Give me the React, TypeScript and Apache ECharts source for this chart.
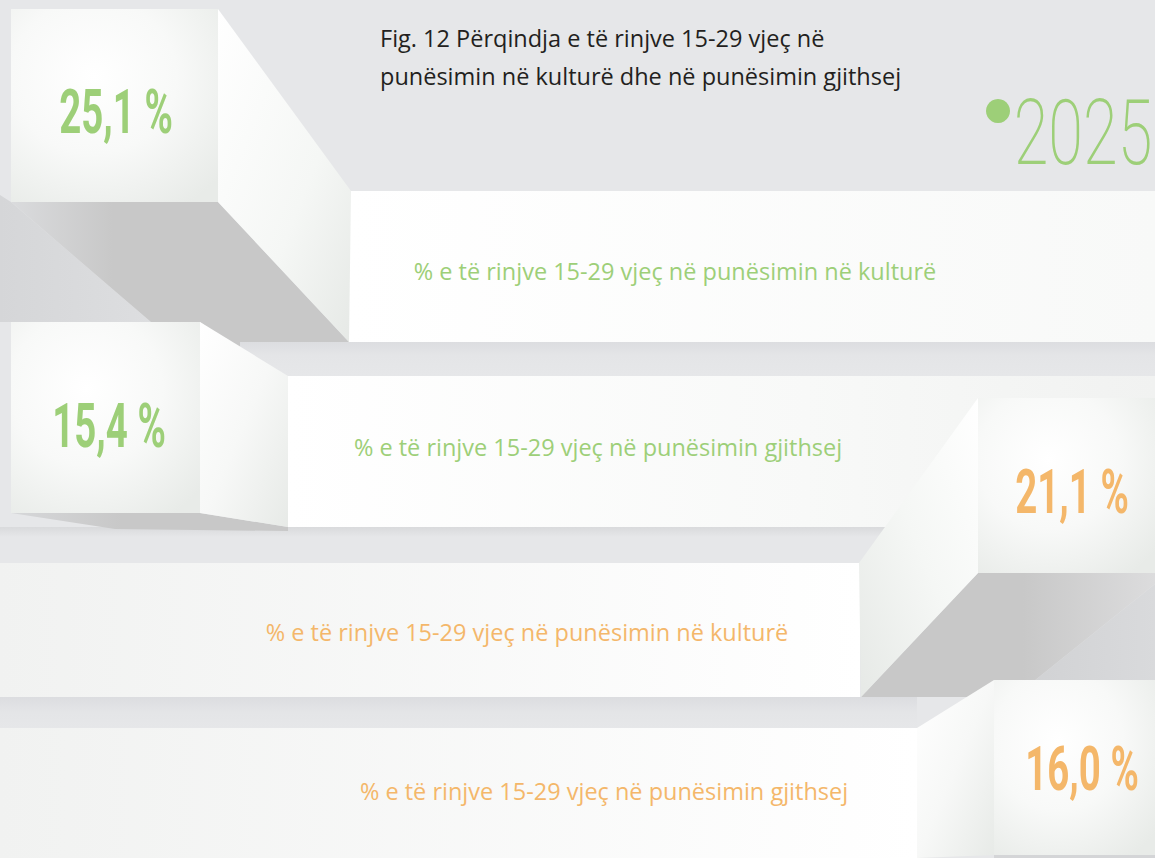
import React, { useEffect, useRef } from "react";
import * as echarts from "echarts";

const yearLabel = "2025";
const titleLines = [
  "Fig. 12 Përqindja e të rinjve 15-29 vjeç në",
  "punësimin në kulturë dhe në punësimin gjithsej",
];
const values = [25.1, 15.4, 21.1, 16.0];
const barLabels = [
  "% e të rinjve 15-29 vjeç në punësimin në kulturë",
  "% e të rinjve 15-29 vjeç në punësimin gjithsej",
  "% e të rinjve 15-29 vjeç në punësimin në kulturë",
  "% e të rinjve 15-29 vjeç në punësimin gjithsej",
];
const groupOfRow = [0, 0, 1, 1];
const groupColors = ["#9dcf78", "#f4b76a"];

const BG = "#e6e7e9";
const SHADOW = "#c8c8c8";

const fmt = (v: number) => v.toFixed(1).replace(".", ",") + " %";

const lin = (x: number, y: number, x2: number, y2: number, stops: [number, string][]) => ({
  type: "linear",
  x,
  y,
  x2,
  y2,
  colorStops: stops.map(([offset, color]) => ({ offset, color })),
});
const rad = (stops: [number, string][]) => ({
  type: "radial",
  x: 0.4,
  y: 0.35,
  r: 0.8,
  colorStops: stops.map(([offset, color]) => ({ offset, color })),
});

const faceFill = rad([
  [0, "#ffffff"],
  [0.5, "#f8f9f8"],
  [1, "#e8ebe8"],
]);

const poly = (pts: number[][], fill: any, z = 1) => ({
  type: "polygon",
  z,
  silent: true,
  shape: { points: pts },
  style: { fill },
});
const rect = (x: number, y: number, w: number, h: number, fill: any, z = 1) => ({
  type: "rect",
  z,
  silent: true,
  shape: { x, y, width: w, height: h },
  style: { fill },
});

export default function App() {
  const ref = useRef<HTMLDivElement>(null);
  useEffect(() => {
    if (!ref.current) return;
    const chart = echarts.init(ref.current, undefined, { renderer: "svg" });

    const els: any[] = [];
    els.push(rect(0, 0, 1155, 858, BG, 0));

    // ---- Row 1: block 1 + bar 1
    els.push(
      poly(
        [[0, 195], [11, 202], [151, 322], [0, 322]],
        lin(0, 0, 1, 0, [[0, "#d5d6d8"], [1, "#dddee0"]]),
        1
      )
    );
    els.push(rect(349, 191, 806, 151, lin(0, 0, 1, 0, [[0, "#ffffff"], [1, "#f8f9f8"]]), 2));
    els.push(
      poly(
        [[11, 202], [218, 202], [349, 342], [349, 350], [240, 350], [200, 322], [151, 322]],
        lin(0, 0, 1, 0, [[0, "#dadbdd"], [0.3, SHADOW], [1, SHADOW]]),
        2
      )
    );
    els.push(
      poly(
        [[218, 9], [351, 191], [349, 342], [218, 202]],
        lin(0, 0, 1, 1, [[0, "#ffffff"], [0.6, "#f5f7f5"], [1, "#e6e9e6"]]),
        3
      )
    );
    els.push(rect(11, 9, 207, 193, faceFill, 3));

    els.push(rect(240, 342, 915, 34, lin(0, 0, 0, 1, [[0, "#dcdde0"], [0.4, "#e4e5e7"], [1, BG]]), 2));

    // ---- Row 2: block 2 + bar 2
    els.push(rect(288, 376, 867, 151, lin(0, 0, 1, 0, [[0, "#ffffff"], [0.6, "#f8f9f8"], [1, "#f1f2f1"]]), 3));
    els.push(
      poly(
        [[11, 513], [200, 513], [288, 527], [288, 531], [115, 529]],
        lin(0, 0, 1, 0, [[0, "#d6d7d9"], [0.4, SHADOW], [1, SHADOW]]),
        3
      )
    );
    els.push(rect(0, 527, 1155, 10, lin(0, 0, 0, 1, [[0, "#d9dadc"], [1, BG]]), 2));
    els.push(
      poly(
        [[200, 322], [288, 376], [288, 527], [200, 513]],
        lin(0, 0, 1, 1, [[0, "#ffffff"], [0.5, "#f7f8f7"], [1, "#e7eae7"]]),
        4
      )
    );
    els.push(rect(11, 322, 189, 191, faceFill, 4));

    // ---- Row 3: bar 3 + block 3
    els.push(rect(0, 563, 860, 134, lin(0, 0, 1, 0, [[0, "#f1f2f1"], [1, "#ffffff"]]), 3));
    els.push(
      poly(
        [[1155, 584], [1155, 697], [1014, 697]],
        lin(0, 0, 1, 0, [[0, "#d0d1d3"], [1, "#d9dadc"]]),
        4
      )
    );
    els.push(
      poly(
        [[978, 573], [1155, 573], [1155, 584], [1014, 697], [861, 697]],
        lin(0, 0, 1, 0, [[0, SHADOW], [0.55, SHADOW], [1, "#dcdcdd"]]),
        4
      )
    );
    els.push(
      poly(
        [[859, 563], [978, 398], [978, 573], [861, 697]],
        lin(1, 0, 0, 1, [[0, "#ffffff"], [0.5, "#f5f7f5"], [1, "#e6e9e6"]]),
        5
      )
    );
    els.push(rect(978, 398, 177, 175, faceFill, 5));
    els.push(rect(0, 697, 917, 31, lin(0, 0, 0, 1, [[0, "#dcdde0"], [0.5, "#e4e5e7"], [1, BG]]), 3));

    // ---- Row 4: bar 4 + block 4
    els.push(rect(0, 728, 917, 130, lin(0, 0, 1, 0, [[0, "#f1f2f1"], [1, "#ffffff"]]), 5));
    els.push(
      poly(
        [[917, 728], [994, 680], [994, 855], [917, 858]],
        lin(0, 0, 1, 1, [[0, "#ffffff"], [0.5, "#f7f8f7"], [1, "#e7eae7"]]),
        6
      )
    );
    els.push(rect(994, 680, 161, 175, faceFill, 6));
    els.push(rect(994, 855, 161, 3, "#d4d5d7", 6));

    // ---- Title
    titleLines.forEach((t, i) => {
      els.push({
        type: "text",
        z: 10,
        x: 380,
        y: 38 + i * 38,
        style: {
          text: t,
          fill: "#231f20",
          font: '23.5px "Open Sans", sans-serif',
          textAlign: "left",
          textVerticalAlign: "middle",
        },
      });
    });

    // ---- Year legend
    els.push({
      type: "circle",
      z: 10,
      shape: { cx: 998, cy: 111, r: 12 },
      style: { fill: groupColors[0] },
    });
    els.push({
      type: "text",
      z: 10,
      x: 1083,
      y: 133,
      scaleX: 0.7,
      style: {
        text: yearLabel,
        fill: groupColors[0],
        font: '200 90px Roboto, sans-serif',
        textAlign: "center",
        textVerticalAlign: "middle",
      },
    });

    // ---- Value labels
    const valPos = [
      [116, 112],
      [109, 426],
      [1072, 492],
      [1082, 769],
    ];
    values.forEach((v, i) => {
      els.push({
        type: "text",
        z: 10,
        x: valPos[i][0],
        y: valPos[i][1],
        scaleX: 0.62,
        style: {
          text: fmt(v),
          fill: groupColors[groupOfRow[i]],
          font: 'bold 62px Roboto, sans-serif',
          textAlign: "center",
          textVerticalAlign: "middle",
        },
      });
    });

    // ---- Bar labels
    const labPos = [
      [675, 271],
      [598, 447],
      [527, 632],
      [604, 791],
    ];
    barLabels.forEach((t, i) => {
      els.push({
        type: "text",
        z: 10,
        x: labPos[i][0],
        y: labPos[i][1],
        style: {
          text: t,
          fill: groupColors[groupOfRow[i]],
          font: '23.5px "Open Sans", sans-serif',
          textAlign: "center",
          textVerticalAlign: "middle",
        },
      });
    });

    chart.setOption({
      animation: false,
      backgroundColor: BG,
      graphic: { elements: els },
    });
    return () => chart.dispose();
  }, []);

  return (
    <div
      ref={ref}
      style={{ position: "fixed", left: 0, top: 0, width: 1155, height: 858 }}
    />
  );
}
